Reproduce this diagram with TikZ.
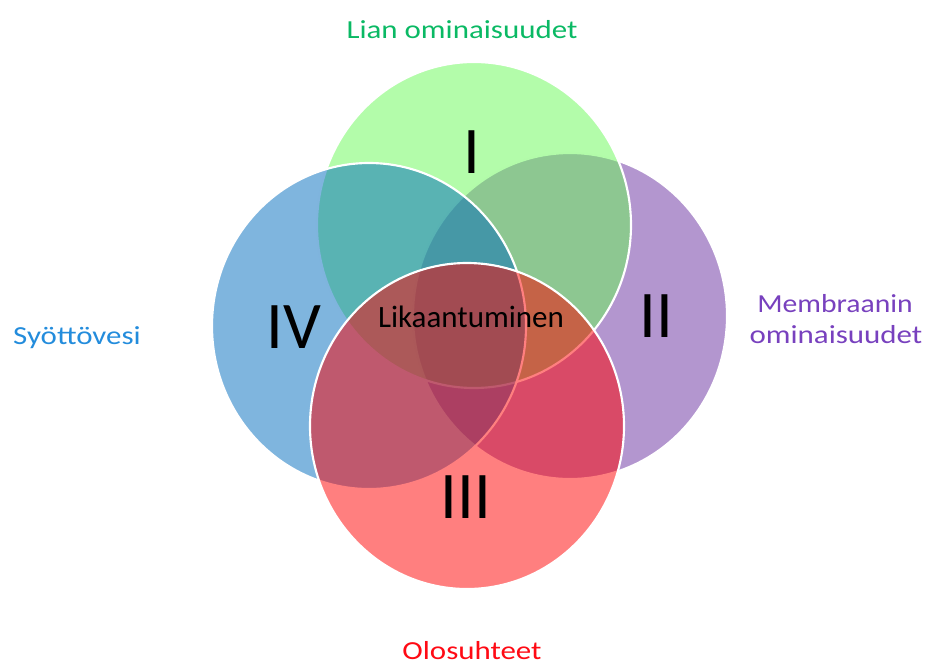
\documentclass[tikz,border=0pt]{standalone}
\usepackage{fontspec}
\setmainfont{Carlito}
\usepackage{graphicx}
\definecolor{cgreen}{RGB}{103,249,85}
\definecolor{cblue}{RGB}{0,107,189}
\definecolor{cpurple}{RGB}{103,45,159}
\definecolor{cred}{RGB}{255,0,0}
\definecolor{lgreen}{RGB}{10,185,100}
\definecolor{lblue}{RGB}{35,140,220}
\definecolor{lpurple}{RGB}{120,65,190}
\definecolor{lred}{RGB}{255,10,20}
\begin{document}
\begin{tikzpicture}[x=0.75pt,y=-0.75pt,
  venn/.style={draw=white, line width=1.6pt, fill opacity=0.5},
  roman/.style={font=\fontsize{50}{50}\selectfont, text=black, anchor=base, inner sep=0pt},
  outer/.style={font=\fontsize{19.5}{23}\selectfont, anchor=base, inner sep=0pt},
  centre/.style={font=\fontsize{23.25}{26}\selectfont, text=black, anchor=base, inner sep=0pt}
]
\useasboundingbox (0,0) rectangle (928,664);
% circles, in drawing order
\path[venn, fill=cpurple] (570,316) ellipse [x radius=117.75pt, y radius=122.25pt];
\path[venn, fill=cgreen]  (474,225) ellipse [x radius=117.75pt, y radius=122.25pt];
\path[venn, fill=cblue]   (369,326) ellipse [x radius=117.75pt, y radius=122.25pt];
\path[venn, fill=cred]    (467,426) ellipse [x radius=117.75pt, y radius=122.25pt];
% numerals
\node[roman] (n1) at (472,173) {I};
\node[roman] (n2) at (656,337) {II};
\node[roman] (n3) at (466,518) {III};
\node[roman] (n4) at (294,348) {IV};
% centre
\node[centre] (lik) at (471,327) {Likaantuminen};
% outer labels
\node[outer, text=lgreen] (lian) at (462,38) {\scalebox{1.19}[1]{Lian ominaisuudet}};
\node[outer, text=lblue] (syo) at (77,344) {\scalebox{1.19}[1]{Syöttövesi}};
\node[outer, text=lpurple] (mem1) at (835,312) {\scalebox{1.14}[1]{Membraanin}};
\node[outer, text=lpurple] (mem2) at (836,343) {\scalebox{1.19}[1]{ominaisuudet}};
\node[outer, text=lred] (olo) at (472,659) {\scalebox{1.19}[1]{Olosuhteet}};
\end{tikzpicture}
\end{document}
